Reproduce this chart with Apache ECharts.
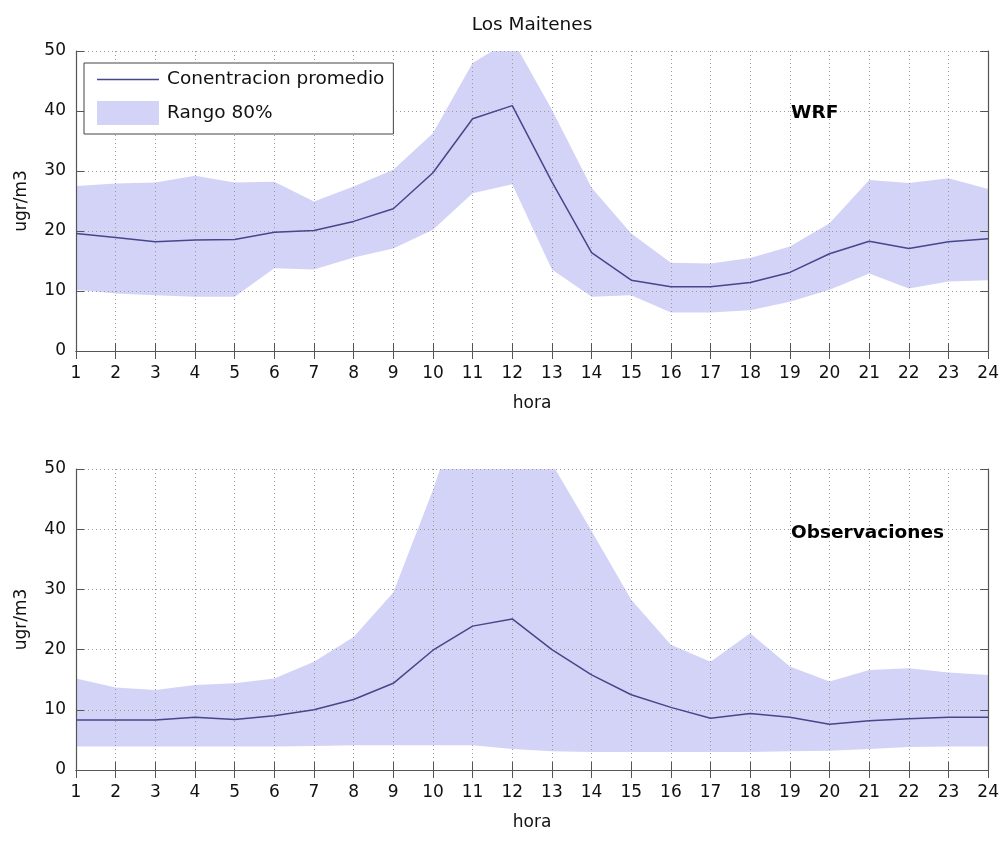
<!DOCTYPE html>
<html>
<head>
<meta charset="utf-8">
<script src="https://cdn.jsdelivr.net/npm/echarts@6/dist/echarts.min.js"></script>
<style>
html,body{margin:0;padding:0;background:#fff;}
#chart{width:1002px;height:841px;}
</style>
</head>
<body>
<div id="chart"></div>
<script>
// ---- data ----
var hours = ['1','2','3','4','5','6','7','8','9','10','11','12','13','14','15','16','17','18','19','20','21','22','23','24'];
var yTicks = [0, 10, 20, 30, 40, 50];

var wrfMean = [19.6, 18.9, 18.2, 18.5, 18.6, 19.8, 20.1, 21.6, 23.7, 29.7, 38.7, 40.9, 28.2, 16.4, 11.8, 10.7, 10.7, 11.4, 13.1, 16.2, 18.3, 17.1, 18.2, 18.7];
var wrfLow  = [10.2, 9.6, 9.3, 9.05, 9.05, 13.8, 13.6, 15.6, 17.1, 20.2, 26.3, 27.8, 13.6, 9.05, 9.3, 6.4, 6.4, 6.8, 8.2, 10.2, 12.9, 10.4, 11.6, 11.8];
var wrfHigh = [27.5, 27.9, 28.1, 29.2, 28.1, 28.2, 24.9, 27.4, 30.2, 36.3, 48.0, 52.0, 40.2, 27.2, 19.6, 14.7, 14.6, 15.5, 17.4, 21.3, 28.5, 28.0, 28.8, 27.0];

var obsMean = [8.3, 8.3, 8.3, 8.75, 8.4, 9.0, 10.0, 11.7, 14.4, 19.9, 23.9, 25.1, 20.0, 15.8, 12.5, 10.4, 8.6, 9.4, 8.75, 7.6, 8.2, 8.5, 8.75, 8.75];
var obsLow  = [3.9, 3.9, 3.9, 3.9, 3.9, 3.9, 4.0, 4.1, 4.1, 4.1, 4.1, 3.5, 3.1, 3.0, 3.0, 3.0, 3.0, 3.0, 3.1, 3.2, 3.5, 3.8, 3.9, 3.9];
var obsHigh = [15.2, 13.7, 13.3, 14.1, 14.4, 15.2, 18.0, 22.1, 29.5, 46.5, 66.0, 62.0, 50.9, 39.7, 28.3, 20.8, 18.0, 22.7, 17.2, 14.7, 16.6, 16.9, 16.2, 15.8];

var titleText = 'Los Maitenes';
var panelLabels = ['WRF', 'Observaciones'];
var meanName = 'Conentracion promedio';
var bandName = 'Rango 80%';
var xName = 'hora';
var yName = 'ugr/m3';

// ---- style ----
var FONT = 'DejaVu Sans';
var bandColor = '#d3d3f8';
var lineColor = '#46468a';
var axisColor = '#555';
var gridColor = '#9a9a9a';

function diff(hi, lo) { return hi.map(function (v, i) { return +(v - lo[i]).toFixed(3); }); }

var grids = [
  {left: 76, right: 13, top: 51, height: 300},
  {left: 76, right: 13, top: 469, height: 301}
];

var xAxes = [], yAxes = [];
grids.forEach(function (g, gi) {
  xAxes.push({
    gridIndex: gi, type: 'category', data: hours, boundaryGap: false, position: 'bottom', z: 3,
    name: xName, nameLocation: 'middle', nameGap: 44,
    nameTextStyle: {fontFamily: FONT, fontSize: 17, color: '#111'},
    axisLine: {show: true, lineStyle: {color: axisColor, width: 1.2}},
    axisTick: {show: true, inside: true, length: 8, interval: 0, lineStyle: {color: axisColor}},
    axisLabel: {interval: 0, margin: 14, fontFamily: FONT, fontSize: 17, color: '#111'},
    splitLine: {show: true, interval: 0, lineStyle: {color: gridColor, type: [1, 3], width: 1}}
  });
  xAxes.push({
    gridIndex: gi, type: 'category', data: hours, boundaryGap: false, position: 'top', z: 3,
    axisLine: {show: true, lineStyle: {color: axisColor, width: 1.2}},
    axisTick: {show: true, inside: true, length: 8, interval: 0, lineStyle: {color: axisColor}},
    axisLabel: {show: false}, splitLine: {show: false}
  });
  yAxes.push({
    gridIndex: gi, type: 'value', min: yTicks[0], max: yTicks[yTicks.length - 1], interval: 10, position: 'left', z: 3,
    name: yName, nameLocation: 'middle', nameGap: 46,
    nameTextStyle: {fontFamily: FONT, fontSize: 17, color: '#111'},
    axisLine: {show: true, lineStyle: {color: axisColor, width: 1.2}},
    axisTick: {show: true, inside: true, length: 8, lineStyle: {color: axisColor}},
    axisLabel: {margin: 10, fontFamily: FONT, fontSize: 17, color: '#111'},
    splitLine: {show: true, lineStyle: {color: gridColor, type: [1, 3], width: 1}}
  });
  yAxes.push({
    gridIndex: gi, type: 'value', min: yTicks[0], max: yTicks[yTicks.length - 1], interval: 10, position: 'right', z: 3,
    axisLine: {show: true, lineStyle: {color: axisColor, width: 1.2}},
    axisTick: {show: true, inside: true, length: 8, lineStyle: {color: axisColor}},
    axisLabel: {show: false}, splitLine: {show: false}
  });
});

function panelSeries(gi, lo, hi, mean) {
  var xi = gi * 2, yi = gi * 2, st = 'band' + gi;
  return [
    {type: 'line', name: 'base' + gi, xAxisIndex: xi, yAxisIndex: yi, stack: st, data: lo,
     symbol: 'none', lineStyle: {opacity: 0, width: 0}, silent: true, z: 1},
    {type: 'line', name: bandName, xAxisIndex: xi, yAxisIndex: yi, stack: st, data: diff(hi, lo),
     symbol: 'none', color: bandColor, itemStyle: {color: bandColor},
     lineStyle: {width: 0, color: bandColor}, areaStyle: {color: bandColor, opacity: 1}, z: 1},
    {type: 'line', name: meanName, xAxisIndex: xi, yAxisIndex: yi, data: mean,
     symbol: 'none', color: lineColor, itemStyle: {color: lineColor},
     lineStyle: {color: lineColor, width: 1.5}, z: 4}
  ];
}

var chart = echarts.init(document.getElementById('chart'), null, {renderer: 'canvas'});
chart.setOption({
  animation: false,
  backgroundColor: '#fff',
  grid: grids,
  xAxis: xAxes,
  yAxis: yAxes,
  legend: {
    left: 84, top: 63, orient: 'vertical', z: 10,
    backgroundColor: '#fff', borderColor: '#444', borderWidth: 1,
    padding: [7, 9, 9, 13], itemGap: 12, itemWidth: 62, itemHeight: 24,
    textStyle: {fontFamily: FONT, fontSize: 18.5, color: '#111', padding: [0, 0, 0, 3]},
    data: [
      {name: meanName, icon: 'path://M0,0H62V1.4H0Z'},
      {name: bandName, icon: 'rect'}
    ],
    selectedMode: false
  },
  graphic: [
    {type: 'text', x: 532, y: 25, z: 20, style: {text: titleText, fontFamily: FONT, fontSize: 18.5, fill: '#111', align: 'center', verticalAlign: 'middle'}},
    {type: 'text', x: 791, y: 113, z: 20, style: {text: panelLabels[0], fontFamily: FONT, fontWeight: 'bold', fontSize: 18.5, fill: '#000', align: 'left', verticalAlign: 'middle'}},
    {type: 'text', x: 791, y: 533, z: 20, style: {text: panelLabels[1], fontFamily: FONT, fontWeight: 'bold', fontSize: 18.5, fill: '#000', align: 'left', verticalAlign: 'middle'}}
  ],
  series: [].concat(panelSeries(0, wrfLow, wrfHigh, wrfMean), panelSeries(1, obsLow, obsHigh, obsMean))
});
</script>
</body>
</html>
